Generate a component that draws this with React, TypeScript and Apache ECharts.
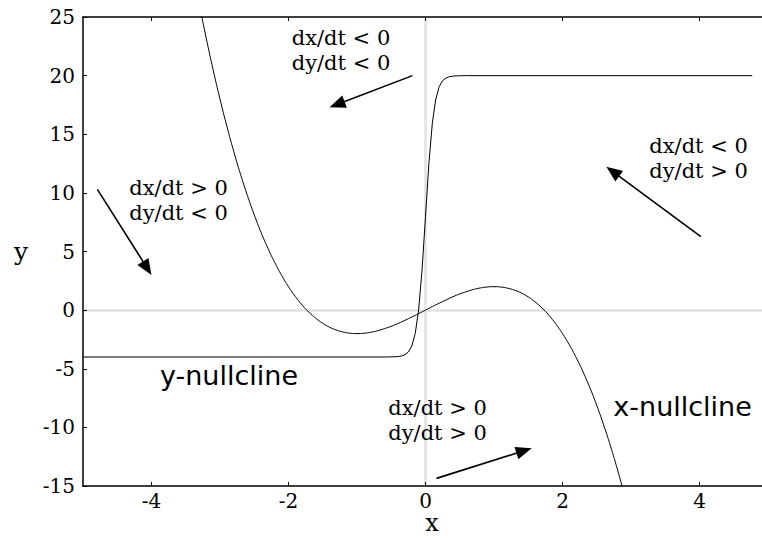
import React, { useEffect, useRef } from "react";
import * as echarts from "echarts";

// ---- data ----
const xTicks = [-4, -2, 0, 2, 4];
const yTicks = [-15, -10, -5, 0, 5, 10, 15, 20, 25];

// x-nullcline (cubic-shaped curve)
const xNullX = [
  -3.4, -3.3, -3.2, -3.1, -3.0, -2.9, -2.8, -2.7, -2.6, -2.5, -2.4, -2.3, -2.2, -2.1, -2.0,
  -1.9, -1.8, -1.7, -1.6, -1.5, -1.4, -1.3, -1.2, -1.1, -1.0, -0.9, -0.8, -0.7, -0.6, -0.5,
  -0.4, -0.3, -0.2, -0.1, 0.0, 0.1, 0.2, 0.3, 0.4, 0.5, 0.6, 0.7, 0.8, 0.9, 1.0, 1.1, 1.2,
  1.3, 1.4, 1.5, 1.6, 1.7, 1.8, 1.9, 2.0, 2.1, 2.2, 2.3, 2.4, 2.5, 2.6, 2.7, 2.8, 2.9, 3.0,
];
const xNullY = [
  29.1, 26.04, 23.17, 20.49, 18.0, 15.69, 13.55, 11.58, 9.78, 8.13, 6.62, 5.27, 4.05, 2.96, 2.0,
  1.16, 0.43, -0.19, -0.7, -1.13, -1.46, -1.7, -1.87, -1.97, -2.0, -1.97, -1.89, -1.76, -1.58, -1.38,
  -1.14, -0.87, -0.59, -0.3, 0.0, 0.3, 0.59, 0.87, 1.14, 1.38, 1.58, 1.76, 1.89, 1.97, 2.0, 1.97, 1.87,
  1.7, 1.46, 1.13, 0.7, 0.19, -0.43, -1.16, -2.0, -2.96, -4.05, -5.27, -6.62, -8.13, -9.78, -11.58, -13.55, -15.69, -18.0,
];

// y-nullcline (steep sigmoid from -4 to 20)
const yNullX = [
  -5.0, -1.0, -0.6, -0.45, -0.4, -0.35, -0.3, -0.25, -0.2, -0.15, -0.1, -0.05, 0.0,
  0.05, 0.1, 0.15, 0.2, 0.25, 0.3, 0.35, 0.4, 0.45, 0.6, 1.0, 4.77,
];
const yNullY = [
  -4.0, -4.0, -4.0, -3.98, -3.96, -3.91, -3.8, -3.57, -3.06, -2.0, 0.03, 3.44, 8.0,
  12.56, 15.97, 18.0, 19.06, 19.57, 19.8, 19.91, 19.96, 19.98, 20.0, 20.0, 20.0,
];

// direction arrows (data coordinates: tail -> head)
const arrowFrom = [
  [-0.19, 20.0],
  [-4.79, 10.3],
  [4.02, 6.26],
  [0.16, -14.35],
];
const arrowTo = [
  [-1.4, 17.3],
  [-4.0, 3.0],
  [2.64, 12.23],
  [1.55, -11.79],
];

const regionLabels = [
  "dx/dt < 0\ndy/dt < 0",
  "dx/dt > 0\ndy/dt < 0",
  "dx/dt < 0\ndy/dt > 0",
  "dx/dt > 0\ndy/dt > 0",
];
const nullclineLabels = ["y-nullcline", "x-nullcline"];

const SERIF = "DejaVu Serif";
const SANS = "DejaVu Sans";

function zip(xs: number[], ys: number[]) {
  return xs.map((x, i) => [x, ys[i]]);
}

export default function App() {
  const ref = useRef<HTMLDivElement>(null);

  useEffect(() => {
    const chart = echarts.init(ref.current!, null, { renderer: "svg" });
    const axisLine = { show: true, onZero: false, lineStyle: { color: "#000", width: 1.5 } };
    const tick = (vals: number[]) => ({
      show: true,
      inside: true,
      length: 4,
      customValues: vals,
      lineStyle: { color: "#000", width: 1 },
    });
    const option: any = {
      animation: false,
      backgroundColor: "#fff",
      grid: { left: 83, top: 17, bottom: 52, right: -6, containLabel: false, outerBoundsMode: "none" },
      xAxis: [
        {
          type: "value",
          min: -5,
          max: 5,
          position: "bottom",
          z: 5,
          axisLine,
          axisTick: tick(xTicks),
          axisLabel: { customValues: xTicks, color: "#000", fontFamily: SERIF, fontSize: 20, lineHeight: 18, margin: 6 },
          splitLine: { show: false },
          name: "x",
          nameLocation: "middle",
          nameGap: 25,
          nameMoveOverlap: false,
          nameTextStyle: { color: "#000", fontFamily: SERIF, fontSize: 24, lineHeight: 24, padding: [0, 0, 0, 13] },
        },
        {
          type: "value",
          min: -5,
          max: 5,
          position: "top",
          z: 5,
          axisLine,
          axisTick: tick(xTicks),
          axisLabel: { show: false, customValues: xTicks },
          splitLine: { show: false },
        },
      ],
      yAxis: [
        {
          type: "value",
          min: -15,
          max: 25,
          interval: 5,
          position: "left",
          z: 5,
          axisLine,
          axisTick: tick(yTicks),
          axisLabel: { customValues: yTicks, color: "#000", fontFamily: SERIF, fontSize: 20, margin: 8 },
          splitLine: { show: false },
          name: "y",
          nameLocation: "middle",
          nameRotate: 0,
          nameGap: 55,
          nameMoveOverlap: false,
          nameTextStyle: { color: "#000", fontFamily: SERIF, fontSize: 25, padding: [16, 0, 0, 0] },
        },
      ],
      series: [
        {
          type: "line",
          data: [],
          markLine: {
            silent: true,
            z: 1,
            symbol: "none",
            label: { show: false },
            lineStyle: { color: "#e3e3e3", width: 2.5, type: "solid" },
            data: [{ xAxis: 0 }, { yAxis: 0 }],
          },
        },
        {
          type: "line",
          name: "x-nullcline",
          data: zip(xNullX, xNullY),
          showSymbol: false,
          smooth: true,
          z: 3,
          lineStyle: { color: "#000", width: 1 },
        },
        {
          type: "line",
          name: "y-nullcline",
          data: zip(yNullX, yNullY),
          showSymbol: false,
          smooth: false,
          z: 3,
          lineStyle: { color: "#000", width: 1 },
        },
      ],
    };
    chart.setOption(option);

    const graphics: any[] = [];
    const regionPos = [
      [291.7, 25.2],
      [129.3, 175.2],
      [649.3, 133.5],
      [388.3, 395.2],
    ];
    regionLabels.forEach((t, i) => {
      graphics.push({
        type: "text",
        x: regionPos[i][0],
        y: regionPos[i][1],
        z: 10,
        style: {
          text: t,
          fontFamily: SERIF,
          fontSize: 21,
          lineHeight: 25,
          fill: "#000",
          align: "left",
          verticalAlign: "top",
        },
      });
    });
    const nullPos = [
      [160, 375.7],
      [613.3, 406.7],
    ];
    nullclineLabels.forEach((t, i) => {
      graphics.push({
        type: "text",
        x: nullPos[i][0],
        y: nullPos[i][1],
        z: 10,
        style: { text: t, fontFamily: SANS, fontSize: 27, fill: "#000", align: "left", verticalAlign: "middle" },
      });
    });

    const headLen = 16;
    const headHalf = 6.5;
    arrowFrom.forEach((f, i) => {
      const p0 = chart.convertToPixel({ xAxisIndex: 0, yAxisIndex: 0 }, f) as number[];
      const p1 = chart.convertToPixel({ xAxisIndex: 0, yAxisIndex: 0 }, arrowTo[i]) as number[];
      const dx = p1[0] - p0[0];
      const dy = p1[1] - p0[1];
      const len = Math.sqrt(dx * dx + dy * dy);
      const ux = dx / len;
      const uy = dy / len;
      const bx = p1[0] - ux * headLen;
      const by = p1[1] - uy * headLen;
      graphics.push({
        type: "line",
        z: 10,
        shape: { x1: p0[0], y1: p0[1], x2: bx + ux * 2, y2: by + uy * 2 },
        style: { stroke: "#000", lineWidth: 1.6 },
      });
      graphics.push({
        type: "polygon",
        z: 10,
        shape: {
          points: [
            [p1[0], p1[1]],
            [bx - uy * headHalf, by + ux * headHalf],
            [bx + uy * headHalf, by - ux * headHalf],
          ],
        },
        style: { fill: "#000", stroke: "none" },
      });
    });
    chart.setOption({ graphic: graphics });

    return () => chart.dispose();
  }, []);

  return (
    <div
      ref={ref}
      style={{ position: "fixed", left: 0, top: 0, width: 762, height: 538, background: "#fff" }}
    />
  );
}
